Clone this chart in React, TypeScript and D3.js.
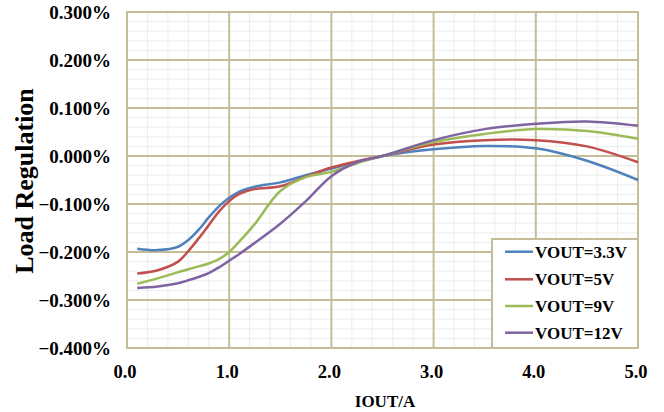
import React from "react";
import * as d3 from "d3";

const currents = [0.1, 0.3, 0.5, 0.6, 0.7, 0.8, 0.9, 1.0, 1.1, 1.25, 1.5, 1.75, 2.0, 2.25, 2.5, 3.0, 3.5, 4.0, 4.5, 5.0];
const vout33 = [-0.193, -0.196, -0.189, -0.175, -0.154, -0.128, -0.105, -0.087, -0.074, -0.064, -0.055, -0.040, -0.026, -0.013, 0.0, 0.014, 0.021, 0.016, -0.010, -0.050];
const vout5 = [-0.245, -0.238, -0.220, -0.198, -0.172, -0.144, -0.116, -0.094, -0.079, -0.069, -0.063, -0.043, -0.024, -0.011, 0.0, 0.024, 0.033, 0.033, 0.020, -0.013];
const vout9 = [-0.266, -0.255, -0.242, -0.236, -0.230, -0.224, -0.215, -0.200, -0.178, -0.142, -0.073, -0.044, -0.033, -0.015, 0.0, 0.029, 0.046, 0.056, 0.052, 0.036];
const vout12 = [-0.275, -0.272, -0.265, -0.259, -0.252, -0.244, -0.232, -0.218, -0.204, -0.181, -0.141, -0.094, -0.042, -0.013, 0.0, 0.033, 0.056, 0.067, 0.072, 0.063];

const seriesNames = ["VOUT=3.3V", "VOUT=5V", "VOUT=9V", "VOUT=12V"];
const seriesColors = ["#4F81BD", "#C0504D", "#9BBB59", "#8064A2"];
const seriesValues = [vout33, vout5, vout9, vout12];

const xTicks = [0, 1, 2, 3, 4, 5];
const yTicks = [0.3, 0.2, 0.1, 0.0, -0.1, -0.2, -0.3, -0.4];
const xTitle = "IOUT/A";
const yTitle = "Load Regulation";

const W = 664;
const H = 412;
const left = 127;
const right = 638;
const top = 12;
const bottom = 348;

const font = "'Liberation Serif', 'Times New Roman', serif";
const gridMajor = "#C4BD97";
const gridMinor = "#EDEDED";

export default function App() {
  const x = d3.scaleLinear().domain([0, 5]).range([left, right]);
  const y = d3.scaleLinear().domain([-0.4, 0.3]).range([bottom, top]);
  const fmtY = (v: number) => d3.format(".3f")(v) + "%";
  const fmtX = d3.format(".1f");

  const minorX = d3.range(0, 5.0001, 0.2).filter((v) => Math.abs(v - Math.round(v)) > 1e-6);
  const minorY = d3.range(-0.4, 0.3001, 0.02).filter((v) => Math.abs(v * 10 - Math.round(v * 10)) > 1e-6);

  const line = d3
    .line<number>()
    .x((_, i) => x(currents[i]))
    .y((d) => y(d))
    .curve(d3.curveCatmullRom.alpha(0.5));

  const legX = 492;
  const legY = 239;
  const legW = right - legX;
  const legH = bottom - legY;
  const legRows = [251.7, 279.3, 306, 332.7];

  return (
    <svg
      width={W}
      height={H}
      style={{ position: "absolute", left: 0, top: 0, background: "#fff" }}
    >
      <rect x={0} y={0} width={W} height={H} fill="#fff" />
      {minorX.map((v) => (
        <line key={"mx" + v} x1={x(v)} x2={x(v)} y1={top} y2={bottom} stroke={gridMinor} strokeWidth={1} />
      ))}
      {minorY.map((v) => (
        <line key={"my" + v} x1={left} x2={right} y1={y(v)} y2={y(v)} stroke={gridMinor} strokeWidth={1} />
      ))}
      {xTicks.map((v) => (
        <line key={"gx" + v} x1={x(v)} x2={x(v)} y1={top} y2={bottom} stroke={gridMajor} strokeWidth={2} />
      ))}
      {yTicks.map((v) => (
        <line key={"gy" + v} x1={left} x2={right} y1={y(v)} y2={y(v)} stroke={gridMajor} strokeWidth={2} />
      ))}
      <rect x={left} y={top} width={right - left} height={bottom - top} fill="none" stroke={gridMajor} strokeWidth={2} />

      {seriesValues.map((vals, i) => (
        <path key={seriesNames[i]} d={line(vals) || ""} fill="none" stroke={seriesColors[i]} strokeWidth={2.5} />
      ))}

      {yTicks.map((v) => (
        <text
          key={"ty" + v}
          x={111}
          y={y(v)}
          dy="0.35em"
          textAnchor="end"
          fontFamily={font}
          fontWeight="bold"
          fontSize={19}
          fill="#000"
        >
          {fmtY(v)}
        </text>
      ))}
      {xTicks.map((v) => (
        <text
          key={"tx" + v}
          x={x(v) - 2}
          y={378}
          textAnchor="middle"
          fontFamily={font}
          fontWeight="bold"
          fontSize={18.5}
          fill="#000"
        >
          {fmtX(v)}
        </text>
      ))}
      <text x={385} y={407} textAnchor="middle" fontFamily={font} fontWeight="bold" fontSize={17} fill="#000">
        {xTitle}
      </text>
      <text
        transform={`translate(33,181) rotate(-90)`}
        textAnchor="middle"
        fontFamily={font}
        fontWeight="bold"
        fontSize={26}
        fill="#000"
      >
        {yTitle}
      </text>

      <rect x={legX} y={legY} width={legW} height={legH} fill="#fff" stroke={gridMajor} strokeWidth={2} />
      {seriesNames.map((n, i) => (
        <g key={"leg" + n}>
          <line x1={505} x2={533} y1={legRows[i]} y2={legRows[i]} stroke={seriesColors[i]} strokeWidth={2.5} />
          <text
            x={535}
            y={legRows[i]}
            dy="0.35em"
            fontFamily={font}
            fontWeight="bold"
            fontSize={17}
            fill="#000"
          >
            {n}
          </text>
        </g>
      ))}
    </svg>
  );
}
